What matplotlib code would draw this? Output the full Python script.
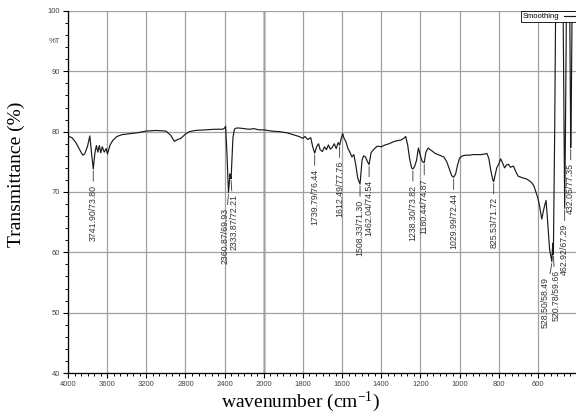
import numpy as np
import matplotlib
matplotlib.use("Agg")
import matplotlib.pyplot as plt
from matplotlib.ticker import FixedLocator

# FTIR spectrum (wavenumber cm-1, %T)
wavenumber = [4000, 3960, 3920, 3880, 3850, 3830, 3800, 3777, 3760, 3741.9, 3725, 3710,
              3695, 3680, 3665, 3650, 3630, 3610, 3597, 3570, 3540, 3500, 3450, 3400,
              3300, 3200, 3100, 3000, 2950, 2914, 2880, 2846, 2800, 2761, 2700, 2600,
              2500, 2420, 2400, 2390, 2375, 2360.87, 2352, 2345, 2340, 2333.87, 2325,
              2315, 2300, 2280, 2250, 2200, 2150, 2100, 2050, 2000, 1960, 1920, 1880,
              1850, 1820, 1800, 1790, 1775, 1760, 1750, 1739.79, 1730, 1720, 1712, 1700,
              1690, 1680, 1670, 1660, 1650, 1640, 1630, 1620, 1612.49, 1605, 1597, 1590,
              1580, 1570, 1560, 1550, 1540, 1530, 1520, 1508.33, 1498, 1490, 1480, 1470,
              1462.04, 1452, 1440, 1420, 1400, 1380, 1360, 1340, 1320, 1300, 1285, 1275,
              1265, 1255, 1245, 1238.3, 1230, 1220, 1210, 1200, 1190, 1180.44, 1172,
              1160, 1150, 1140, 1125, 1110, 1095, 1080, 1065, 1050, 1040, 1029.99, 1020,
              1010, 1000, 985, 970, 950, 930, 910, 890, 870, 860, 850, 840, 830, 825.53,
              818, 810, 800, 790, 780, 770, 760, 750, 740, 725, 710, 700, 690, 675, 660,
              645, 630, 620, 610, 600, 590, 580, 572, 565, 558, 552, 540, 528.5, 524,
              520.78, 514, 508, 472, 466, 462.92, 459, 453, 438, 434, 432.05, 429, 424,
              400]
transmittance = [79.3, 79.0, 78.2, 77.0, 76.1, 76.3, 77.6, 79.3, 76.5, 73.8, 76.5, 77.7,
                 76.6, 77.7, 76.5, 77.5, 76.6, 77.2, 76.3, 77.8, 78.6, 79.2, 79.5, 79.6,
                 79.8, 80.1, 80.2, 80.1, 79.4, 78.4, 78.7, 78.9, 79.6, 80.0, 80.2, 80.3,
                 80.4, 80.4, 80.6, 80.9, 76.0, 69.93, 71.5, 73.0, 72.6, 72.21, 75.5,
                 79.0, 80.4, 80.6, 80.6, 80.5, 80.4, 80.5, 80.3, 80.3, 80.1, 80.0, 79.8,
                 79.5, 79.2, 78.9, 79.2, 78.7, 79.0, 77.5, 76.44, 77.5, 78.0, 77.0, 76.7,
                 77.5, 77.0, 77.8, 77.1, 77.4, 78.0, 77.2, 78.2, 77.76, 78.8, 79.7, 78.9,
                 78.3, 77.2, 76.6, 75.8, 76.2, 74.5, 72.3, 71.3, 75.3, 76.0, 75.8, 75.0,
                 74.54, 76.5, 77.0, 77.6, 77.5, 77.8, 78.0, 78.3, 78.5, 78.6, 78.9, 79.2,
                 77.8, 75.5, 74.0, 73.82, 74.2, 75.2, 77.3, 76.0, 75.0, 74.87, 76.6,
                 77.3, 77.0, 76.8, 76.4, 76.2, 76.0, 75.8, 75.0, 73.6, 72.7, 72.44, 73.0,
                 74.5, 75.6, 76.0, 76.1, 76.1, 76.2, 76.2, 76.2, 76.3, 76.4, 75.5, 73.5, 72.0, 71.72,
                 72.8, 74.0, 74.6, 75.5, 74.8, 74.0, 74.5, 74.6, 74.1, 74.3, 73.2, 72.6, 72.5, 72.3, 72.2,
                 71.9, 71.5, 71.0, 70.0, 69.0, 67.5, 65.5, 66.8, 67.8, 68.6, 66.0, 60.5, 58.49, 61.5,
                 59.66, 80.0, 105, 105, 80.0, 67.29, 80.0, 105, 105, 85.0, 77.35, 85.0, 105,
                 105]

# labelled peaks
peak_wn = [3741.90, 2360.87, 2333.87, 1739.79, 1612.49, 1508.33, 1462.04, 1238.30,
           1180.44, 1029.99, 825.53, 528.50, 520.78, 462.92, 432.05]
peak_t = [73.80, 69.93, 72.21, 76.44, 77.76, 71.30, 74.54, 73.82,
          74.87, 72.44, 71.72, 58.49, 59.66, 67.29, 77.35]


# instrument x scale: 2x compressed above 2000 cm-1
def fwd(w):
  w = np.asarray(w, float)
  return np.where(w > 2000, 2000 + (w - 2000) / 2, w)


def inv(u):
  u = np.asarray(u, float)
  return np.where(u > 2000, 2000 + (u - 2000) * 2, u)


fig = plt.figure(figsize=(5.76, 4.16), dpi=100)
ax = fig.add_axes([68 / 576, 1 - 373 / 416, 509 / 576, 362 / 416])
ax.set_xscale('function', functions=(fwd, inv))

ax.plot(wavenumber, transmittance, color='#1a1a1a', lw=0.85, label='Smoothing')
ax.set_xlim(4000, 400)
ax.set_ylim(40, 100)

major_x = [4000, 3600, 3200, 2800, 2400, 2000, 1800, 1600, 1400, 1200, 1000, 800, 600]
minor_x = list(np.arange(2000, 4000, 400 / 6)) + list(np.arange(400, 2000, 200 / 6))
ax.xaxis.set_major_locator(FixedLocator(major_x))
ax.xaxis.set_minor_locator(FixedLocator(minor_x))
ax.yaxis.set_major_locator(FixedLocator([40, 50, 60, 70, 80, 90, 100]))
ax.yaxis.set_minor_locator(FixedLocator(np.arange(40, 100, 2)))
ax.xaxis.set_major_formatter(plt.FuncFormatter(lambda v, p: f"{v:.0f}"))
ax.yaxis.set_major_formatter(plt.FuncFormatter(lambda v, p: f"{v:.0f}"))

ax.grid(True, which='major', color='#a0a0a0', lw=0.9)
ax.axvline(2000, color='black', lw=1.0, zorder=1)
for s in ['top', 'right']:
  ax.spines[s].set_visible(False)
ax.spines['left'].set_linewidth(0.9)
ax.spines['bottom'].set_linewidth(0.9)

ax.tick_params(which='major', length=3.5, width=0.8, labelsize=5.5,
               labelcolor='#444444', pad=2,
               labelfontfamily='Liberation Sans')
ax.tick_params(which='minor', length=2, width=0.7)

ax.annotate('%T', xy=(0, 95), xycoords=('axes fraction', 'data'), xytext=(-6, 0),
            textcoords='offset points', ha='right', va='center', fontsize=5.5,
            color='#444444', family='Liberation Sans')

# crowded pairs get pushed apart a little
nudge = {2360.87: -2.5, 2333.87: 2, 528.50: -5, 520.78: 2}
for w, t in zip(peak_wn, peak_t):
  ax.annotate(f"{w:.2f}/{t:.2f}", xy=(w, t - 0.3), xytext=(nudge.get(w, 0), -10),
              textcoords='offset points', rotation=90, ha='center', va='top',
              fontsize=6.3, color='#333333', family='Liberation Sans',
              arrowprops=dict(arrowstyle='-', lw=0.6, color='#333333',
                              shrinkA=0.5, shrinkB=0))

leg = ax.legend(loc='upper right', fancybox=False, edgecolor='black',
                framealpha=1, borderaxespad=0, handlelength=1.5, markerfirst=False,
                borderpad=0.25, handletextpad=0.6,
                prop={'family': 'Liberation Sans', 'size': 5.5})
leg.get_frame().set_linewidth(0.6)

plt.rcParams['mathtext.default'] = 'regular'
ax.set_ylabel('Transmittance (%)', family='Liberation Serif', fontsize=14)
ax.set_xlabel('wavenumber (cm$^{-1}$)', family='Liberation Serif', fontsize=14)
ax.yaxis.set_label_coords(-0.085, 0.548)
ax.xaxis.set_label_coords(0.456, -0.045)

fig.savefig('out.png', dpi=100)
